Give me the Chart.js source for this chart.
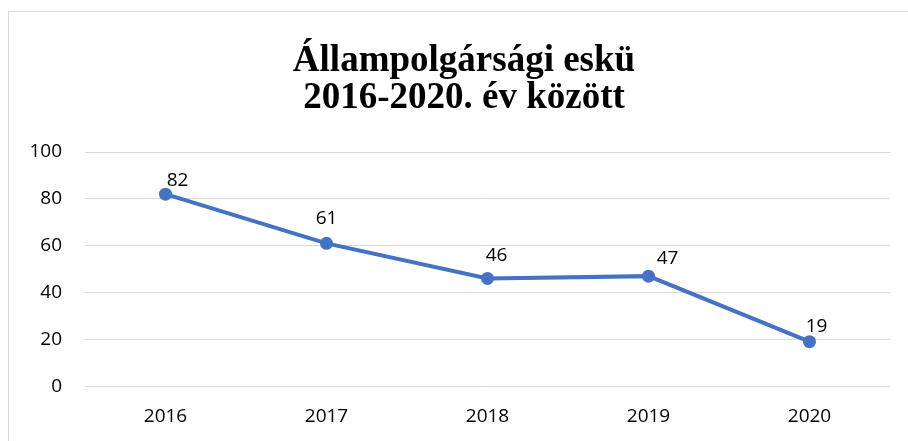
<!DOCTYPE html>
<html>
<head>
<meta charset="utf-8">
<script src="https://cdn.jsdelivr.net/npm/chart.js@4/dist/chart.umd.min.js"></script>
<style>
  html, body { margin: 0; padding: 0; background: #fff; overflow: hidden; width: 908px; height: 441px; }
  #box { position: absolute; left: 8px; top: 11px; width: 920px; height: 440px; border: 1px solid #d9d9d9; background: #fff; }
  canvas { position: absolute; left: 0; top: 0; }
</style>
</head>
<body>
<div id="box"><canvas id="c" width="910" height="435"></canvas></div>
<script>
const titleLines = ['Állampolgársági eskü', '2016-2020. év között'];
const categories = ['2016', '2017', '2018', '2019', '2020'];
const values = [82, 61, 46, 47, 19];
const yTicks = [0, 20, 40, 60, 80, 100];

const labelFont = '19px "Open Sans"';
const labelOffsets = [[12, -14], [0, -25], [9, -23], [19, -18], [7, -15]];

const dataLabels = {
  id: 'dataLabels',
  afterDatasetsDraw(chart) {
    const ctx = chart.ctx;
    const meta = chart.getDatasetMeta(0);
    ctx.save();
    ctx.font = labelFont;
    ctx.fillStyle = '#000';
    ctx.textAlign = 'center';
    ctx.textBaseline = 'middle';
    meta.data.forEach((pt, i) => {
      const off = labelOffsets[i] || [0, -20];
      ctx.fillText(String(values[i]), pt.x + off[0], pt.y + off[1]);
    });
    ctx.restore();
  }
};

new Chart(document.getElementById('c'), {
  type: 'line',
  data: {
    labels: categories,
    datasets: [{
      data: values,
      borderColor: '#4472C4',
      backgroundColor: '#4472C4',
      borderWidth: 4,
      pointRadius: 6.5,
      pointHoverRadius: 6.5,
      pointBackgroundColor: '#4472C4',
      pointBorderWidth: 0,
      tension: 0
    }]
  },
  options: {
    responsive: false,
    devicePixelRatio: 1,
    animation: false,
    layout: { padding: 0 },
    plugins: {
      legend: { display: false },
      tooltip: { enabled: false },
      title: {
        display: true,
        text: titleLines,
        color: '#000',
        font: { family: '"Liberation Serif", "Times New Roman", serif', size: 37, weight: 'bold', lineHeight: 1.0 },
        padding: { top: 31, bottom: 35 }
      }
    },
    scales: {
      x: {
        offset: true,
        grid: { display: false, drawTicks: false },
        border: { display: false },
        ticks: { color: '#000', font: { family: '"Open Sans"', size: 19 }, padding: 19 }
      },
      y: {
        min: 0,
        max: 100,
        afterBuildTicks(axis) { axis.ticks = yTicks.map(v => ({ value: v })); },
        afterFit(axis) { axis.width = 76; },
        grid: { color: '#d9d9d9', lineWidth: 1, drawTicks: false },
        border: { display: false },
        ticks: { color: '#000', font: { family: '"Open Sans"', size: 19 }, padding: 23 }
      },
      yRight: {
        position: 'right',
        min: 0,
        max: 100,
        afterFit(axis) { axis.width = 29; },
        grid: { display: false, drawTicks: false },
        border: { display: false },
        ticks: { display: false }
      }
    }
  },
  plugins: [dataLabels]
});
</script>
</body>
</html>
